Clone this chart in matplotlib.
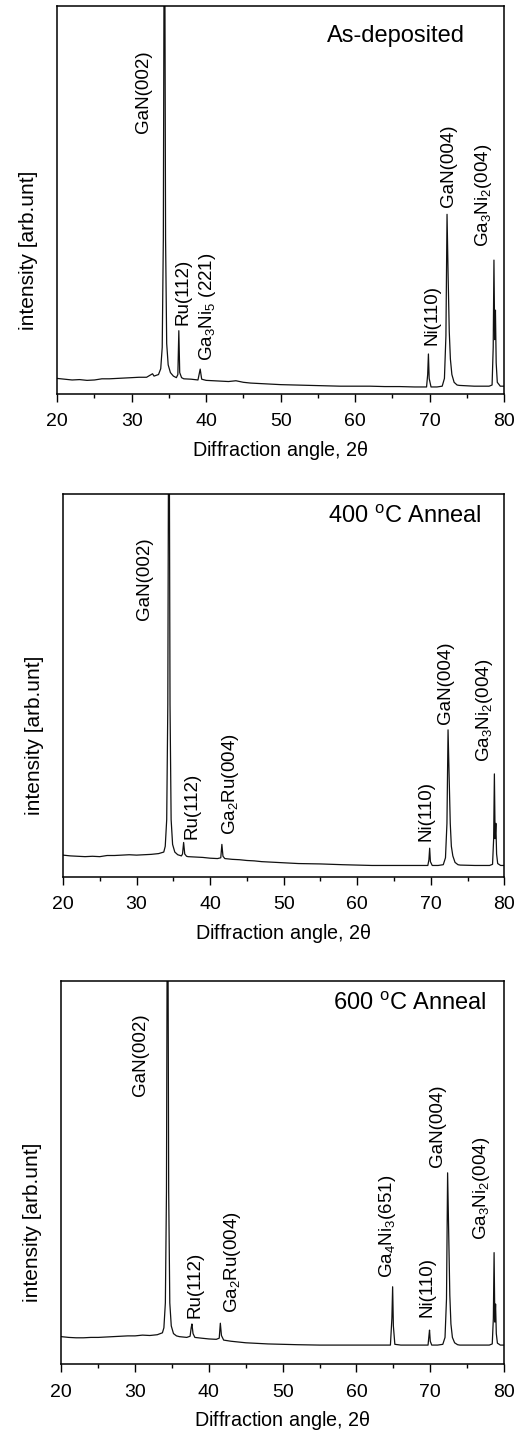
import matplotlib
matplotlib.use('Agg')
from matplotlib import pyplot as plt
from matplotlib.ticker import MultipleLocator

plt.rcParams['font.family'] = ['Liberation Sans', 'DejaVu Sans']
plt.rcParams['mathtext.fontset'] = 'custom'
plt.rcParams['mathtext.rm'] = 'Liberation Sans'
plt.rcParams['mathtext.default'] = 'regular'

# XRD scans: 2theta [deg] and intensity [arb., 0-100 = plot height]
angle_dep = [20, 21, 22, 23, 24, 25, 26, 27, 28, 29, 30, 31, 32, 32.8, 33.0, 33.6, 33.9, 34.1, 34.25,
             34.4, 34.55, 34.7, 34.9, 35.2, 35.6, 36.0, 36.2, 36.33, 36.45, 36.7, 37, 38, 38.9, 39.2,
             39.4, 40, 41, 42, 43, 44, 45, 46, 47, 48, 49, 50, 52, 54, 56, 58, 60, 62, 64, 66, 68,
             69.6, 69.75, 69.85, 69.95, 70.2, 71, 71.7, 72.0, 72.2, 72.35, 72.5, 72.65, 72.8, 73.0,
             73.3, 73.7, 74, 75, 76, 77, 78, 78.4, 78.55, 78.65, 78.75, 78.85, 78.95, 79.1, 79.5, 80]
int_dep = [4.0, 3.8, 3.6, 3.7, 3.5, 3.6, 3.9, 3.9, 4.0, 4.1, 4.2, 4.3, 4.3, 5.2, 4.6, 5.0, 6.5, 12, 40,
           150, 40, 13, 7.5, 5.5, 4.6, 4.2, 5.0, 16.3, 5.5, 4.2, 3.9, 3.8, 3.6, 6.4,
           3.8, 3.5, 3.4, 3.3, 3.2, 3.4, 3.0, 2.8, 2.7, 2.6, 2.5, 2.4, 2.3, 2.2, 2.1, 2.0, 2.0, 2.0, 1.9, 1.9, 1.8,
           1.8, 5.0, 10.3, 4.0, 1.8, 1.8, 2.0, 4.0, 15, 46.3, 30, 16, 9, 5.0,
           3.0, 2.3, 2.2, 2.1, 2.0, 2.0, 2.0, 2.3, 12, 34.5, 14, 21.6, 8, 3.0, 2.0, 2.0]

angle_400 = [20, 21, 22, 23, 24, 25, 26, 27, 28, 29, 30, 31, 32, 33, 33.7, 33.9, 34.1, 34.25, 34.4,
             34.55, 34.7, 34.9, 35.2, 35.6, 36.1, 36.25, 36.4, 36.55, 36.8, 37, 38, 39, 40, 41, 41.45,
             41.6, 41.75, 42, 43, 44, 45, 46, 47, 48, 50, 52, 55, 58, 60, 62, 65, 68, 69.6, 69.75,
             69.85, 69.95, 70.2, 71, 71.7, 72.0, 72.2, 72.35, 72.5, 72.65, 72.8, 73.0, 73.3, 73.7, 74,
             76, 78, 78.4, 78.55, 78.65, 78.75, 78.85, 78.95, 79.1, 79.5, 80]
int_400 = [5.7, 5.5, 5.4, 5.3, 5.4, 5.3, 5.6, 5.6, 5.7, 5.8, 5.7, 5.8, 5.9, 6.1, 6.5, 8, 15, 45, 150,
           45, 15, 8.5, 6.5, 5.8, 5.5, 6.0, 9.0, 6.0, 5.4, 5.3, 5.2, 5.1, 4.9, 4.8, 5.0,
           8.5, 5.4, 4.8, 4.6, 4.5, 4.3, 4.2, 4.0, 3.9, 3.7, 3.5, 3.4, 3.2, 3.1, 3.0, 3.0, 3.0, 3.0, 4.5,
           7.5, 4.0, 3.0, 3.0, 3.2, 5.0, 14, 38.4, 26, 14, 8, 5.5, 3.8, 3.2, 3.1,
           3.0, 3.0, 3.3, 10, 26.9, 10, 14, 6, 3.5, 3.0, 3.0]

angle_600 = [20, 21, 22, 23, 24, 25, 26, 27, 28, 29, 30, 31, 32, 33, 33.7, 33.9, 34.1, 34.25, 34.4,
             34.55, 34.7, 34.9, 35.2, 35.6, 36, 37, 37.45, 37.6, 37.7, 37.85, 38.1, 39, 40, 41, 41.4,
             41.55, 41.7, 42, 43, 44, 45, 46, 48, 50, 52, 55, 58, 60, 62, 64.6, 64.8, 64.9, 65.0,
             65.2, 66, 68, 69.7, 69.8, 69.9, 70.0, 70.2, 71, 71.7, 72.0, 72.2, 72.35, 72.5, 72.65,
             72.8, 73.0, 73.3, 73.7, 74, 76, 78, 78.4, 78.55, 78.65, 78.75, 78.85, 78.95, 79.1, 79.5, 80]
int_600 = [7.2, 7.0, 6.9, 6.9, 7.0, 7.0, 7.1, 7.2, 7.3, 7.4, 7.4, 7.6, 7.5, 7.7, 8.2, 9.5, 16, 45, 150,
           45, 16, 10, 8, 7.4, 7.2, 7.0, 7.3, 9.5, 10.5, 8, 7.0, 6.8, 6.6, 6.5, 6.8,
           10.7, 7.5, 6.3, 6.0, 5.8, 5.6, 5.5, 5.3, 5.2, 5.1, 5.0, 5.0, 5.0, 5.0, 5.0, 12, 20.2, 10,
           5.2, 5.0, 5.0, 5.0, 7, 8.9, 6, 5.0, 5.0, 5.2, 7, 17, 49.9, 34, 18,
           10.5, 7, 5.6, 5.1, 5.0, 5.0, 5.0, 5.3, 12, 29.1, 11, 15.7, 8, 5.5, 5.0, 5.0]

peaks_dep = ['GaN(002)', 'Ru(112)', r'Ga$_3$Ni$_5$ (221)', 'Ni(110)', 'GaN(004)', r'Ga$_3$Ni$_2$(004)']
peaks_400 = ['GaN(002)', 'Ru(112)', r'Ga$_2$Ru(004)', 'Ni(110)', 'GaN(004)', r'Ga$_3$Ni$_2$(004)']
peaks_600 = ['GaN(002)', 'Ru(112)', r'Ga$_2$Ru(004)', r'Ga$_4$Ni$_3$(651)', 'Ni(110)', 'GaN(004)',
             r'Ga$_3$Ni$_2$(004)']

titles = ['As-deposited', r'400 $^{\rm o}$C Anneal', r'600 $^{\rm o}$C Anneal']

# label placement (x centre in deg, bottom in intensity units)
lab_pos = [
    ([31.55, 36.85, 40.15, 70.35, 72.55, 77.25], [67.2, 17.8, 8.5, 12.6, 48.1, 37.8]),
    ([31.14, 37.55, 42.76, 69.4, 72.06, 77.27], [67.1, 9.8, 11.0, 9.5, 39.9, 29.9]),
    ([30.7, 38.1, 43.2, 64.2, 69.5, 71.0, 77.0], [69.8, 12.0, 13.3, 22.4, 12.4, 51.5, 32.4]),
]
title_pos = [(0.913, 0.923), (0.949, 0.939), (0.962, 0.939)]
ax_rects = [
    [0.109, 0.7249, 0.851, 0.2709],
    [0.120, 0.3876, 0.8406, 0.2675],
    [0.1168, 0.0473, 0.8433, 0.2679],
]


def draw_panel(ax, x, y, peaks, pos, title, tpos):
    ax.plot(x, y, color='#111111', lw=0.9)
    ax.set_xlim(20, 80)
    ax.set_ylim(0, 100)
    ax.set_yticks([])
    ax.xaxis.set_major_locator(MultipleLocator(10))
    ax.xaxis.set_minor_locator(MultipleLocator(5))
    ax.tick_params(axis='x', which='major', direction='out', length=6, width=1.0,
                   labelsize=14, pad=8)
    ax.tick_params(axis='x', which='minor', direction='out', length=3, width=1.0)
    for sp in ax.spines.values():
        sp.set_linewidth(1.1)
    for lab, px, py in zip(peaks, pos[0], pos[1]):
        ax.text(px, py, lab, rotation=90, ha='center', va='bottom', fontsize=13.5)
    ax.text(tpos[0], tpos[1], title, transform=ax.transAxes, ha='right', va='center', fontsize=17)
    ax.set_xlabel(r'Diffraction angle, 2$\theta$', fontsize=14.2, labelpad=6)
    ax.set_ylabel('intensity [arb.unt]', fontsize=15)
    ax.yaxis.set_label_coords(-0.043, 0.37)


fig = plt.figure(figsize=(5.25, 14.32), dpi=100)
series = [(angle_dep, int_dep, peaks_dep), (angle_400, int_400, peaks_400), (angle_600, int_600, peaks_600)]
for i in range(3):
    ax = fig.add_axes(ax_rects[i])
    draw_panel(ax, series[i][0], series[i][1], series[i][2], lab_pos[i], titles[i], title_pos[i])

fig.savefig('out.png', dpi=100)
